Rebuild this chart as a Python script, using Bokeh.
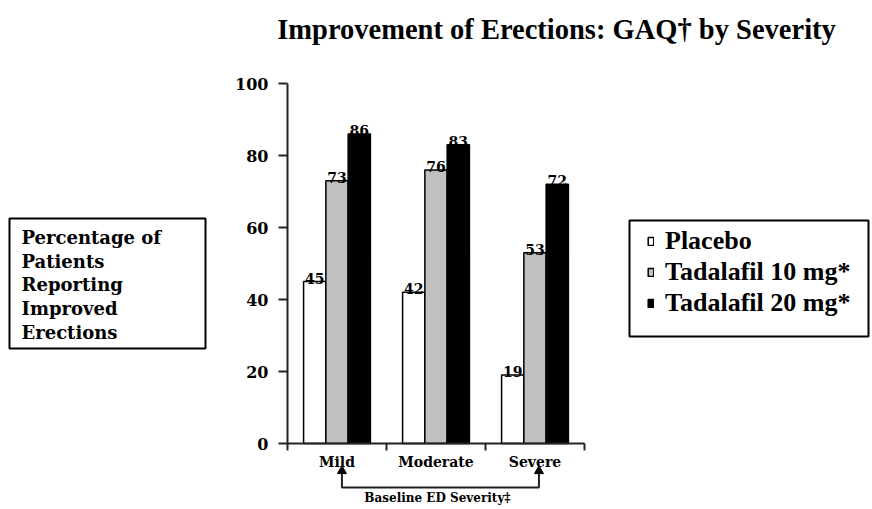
from bokeh.plotting import figure
from bokeh.models import (FixedTicker, Label, BoxAnnotation, Legend, LegendItem,
                          Range1d, LinearAxis)
from bokeh.core.properties import value
from bokeh.embed import file_html
from bokeh.resources import INLINE

# ---- data ----
categories = ["Mild", "Moderate", "Severe"]
placebo = [45, 42, 19]
tad10 = [73, 76, 53]
tad20 = [86, 83, 72]
series_names = ["Placebo", "Tadalafil 10 mg*", "Tadalafil 20 mg*"]
y_ticks = [0, 20, 40, 60, 80, 100]
title_text = "Improvement of Erections: GAQ\u2020 by Severity"
ylabel_lines = ["Percentage of", "Patients", "Reporting", "Improved", "Erections"]
xlabel_text = "Baseline ED Severity\u2021"

# ---- layout constants (pixels) ----
W, H = 872, 509
PX0, PY0 = 287, 443          # pixel position of data (0, 0)
CAT_PX, PCT_PX = 99.0, 3.6   # pixels per category / per percent

def dx(px):
    return (px - PX0) / CAT_PX

def dy(py):
    return (PY0 - py) / PCT_PX

SERIF = "DejaVu Serif"
TIMES = "Liberation Serif"

p = figure(width=W, height=H, output_backend="svg", toolbar_location=None,
           x_range=Range1d(dx(0), dx(W)), y_range=Range1d(dy(H), dy(0)),
           x_axis_type=None, y_axis_type=None, min_border=0, title=None)
p.outline_line_color = None
p.grid.visible = False
p.background_fill_color = "white"
p.border_fill_color = "white"

centers = [i + 0.5 for i in range(len(categories))]
bw = 0.225
fills = ["white", "#c0c0c0", "black"]
renderers = []
for k, (vals, col) in enumerate(zip([placebo, tad10, tad20], fills)):
    xs = [c + (k - 1) * bw for c in centers]
    r = p.vbar(x=xs, top=vals, width=bw, bottom=0, fill_color=col,
               line_color="black", line_width=1.5)
    renderers.append(r)
for k, vals in enumerate([placebo, tad10, tad20]):
    xs = [c + (k - 1) * bw for c in centers]
    p.text(x=xs, y=vals, text=[str(v) for v in vals], text_align="center",
           text_baseline="bottom", text_font_size="14px",
           text_font=value(SERIF), text_font_style="bold", text_color="black",
           y_offset=2)

# x axis
xa = LinearAxis(fixed_location=0, bounds=(0, len(categories)))
xa.ticker = FixedTicker(ticks=centers, minor_ticks=list(range(len(categories) + 1)))
xa.major_label_overrides = {c: n for c, n in zip(centers, categories)}
xa.major_tick_out = 0
xa.major_tick_in = 0
xa.major_tick_line_color = None
xa.minor_tick_out = 7
xa.minor_tick_in = 0
xa.minor_tick_line_width = 2
xa.minor_tick_line_color = "#222222"
xa.axis_line_width = 2
xa.axis_line_color = "#222222"
xa.major_label_standoff = 3
xa.major_label_text_font = SERIF
xa.major_label_text_font_style = "bold"
xa.major_label_text_font_size = "14px"
xa.major_label_text_color = "black"
p.add_layout(xa, "below")

ya = LinearAxis(fixed_location=0, bounds=(0, 100))
ya.ticker = FixedTicker(ticks=y_ticks, minor_ticks=[])
ya.major_tick_out = 9
ya.major_tick_in = 0
ya.major_tick_line_width = 2
ya.major_tick_line_color = "#222222"
ya.axis_line_width = 2
ya.axis_line_color = "#222222"
ya.major_label_standoff = 10
ya.major_label_text_font = SERIF
ya.major_label_text_font_style = "bold"
ya.major_label_text_font_size = "16px"
ya.major_label_text_color = "black"
p.add_layout(ya, "left")

# title
p.add_layout(Label(x=dx(556), y=dy(29), text=title_text, text_align="center",
                   text_baseline="alphabetic", text_font=TIMES,
                   text_font_style="bold", text_font_size="28.5px", text_color="black"))

# left y-label box
p.add_layout(BoxAnnotation(left=dx(9), right=dx(205), top=dy(218), bottom=dy(348),
                           fill_color=None, line_color="black", line_alpha=1,
                           line_width=2))
for i, t in enumerate(ylabel_lines):
    p.add_layout(Label(x=dx(21), y=dy(237 + i * 23.7), text=t, text_align="left",
                       text_baseline="middle", text_font=SERIF,
                       text_font_style="bold", text_font_size="18px", text_color="black"))

# legend
items = [LegendItem(label=n, renderers=[r]) for n, r in zip(series_names, renderers)]
legend = Legend(items=items, location=(647, H - 318), glyph_width=7,
                glyph_height=10, label_text_font=TIMES,
                label_text_font_style="bold", label_text_font_size="26px",
                label_text_color="black",
                label_standoff=11, label_height=31, spacing=0, padding=0, margin=0,
                border_line_color=None, background_fill_alpha=0)
p.add_layout(legend)
p.add_layout(BoxAnnotation(left=dx(629), right=dx(868), top=dy(220), bottom=dy(336),
                           fill_color=None, line_color="black", line_alpha=1,
                           line_width=2))

# bracket linking the Mild and Severe groups
bx = [centers[0] + 0.05, centers[-1] + 0.04]
p.multi_line(xs=[[bx[0], bx[0], bx[1], bx[1]]],
             ys=[[dy(472), dy(487), dy(487), dy(472)]],
             line_width=2, line_color="#222222")
p.scatter(x=bx, y=[dy(470.5)] * 2, marker="triangle", size=9,
          fill_color="black", line_color="black")
p.add_layout(Label(x=dx(437), y=dy(497), text=xlabel_text, text_align="center",
                   text_baseline="middle", text_font=SERIF,
                   text_font_style="bold", text_font_size="12px", text_color="black"))

open("out.html", "w").write(file_html(p, INLINE))
